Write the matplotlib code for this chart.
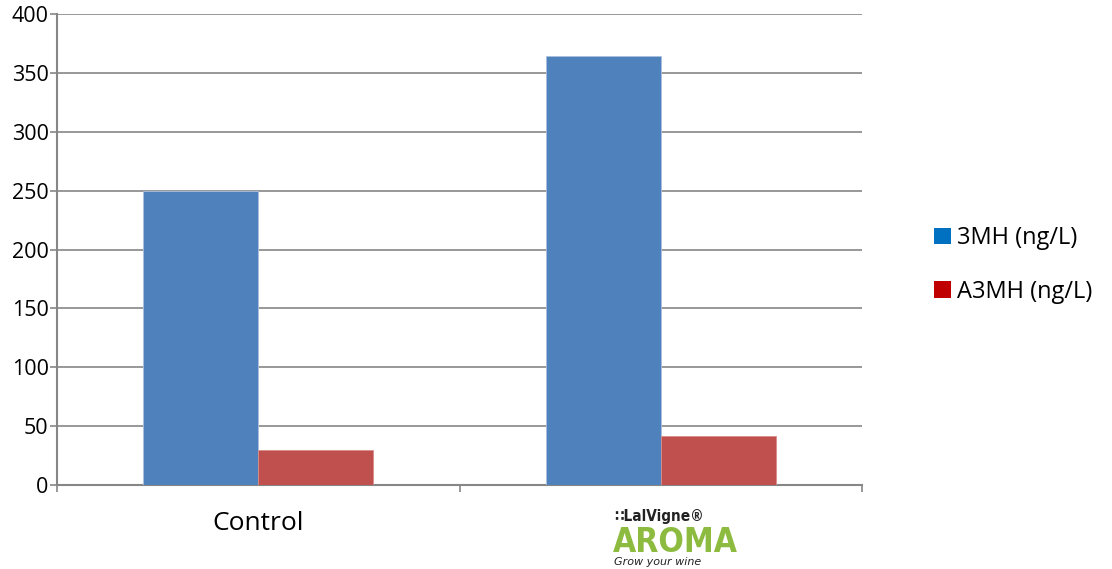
import matplotlib
matplotlib.use("Agg")
import matplotlib.pyplot as plt
from matplotlib.patches import Patch
import matplotlib.transforms as mtransforms

categories = ["Control", "LalVigne AROMA"]
series_names = ["3MH (ng/L)", "A3MH (ng/L)"]
mh3 = [250, 364]
a3mh = [30, 42]
yticks = [0, 50, 100, 150, 200, 250, 300, 350, 400]

bar_colors = ["#4F81BD", "#C0504D"]
legend_colors = ["#0070C0", "#C00000"]
grid_color = "#868686"

plt.rcParams['font.family'] = ['Open Sans', 'DejaVu Sans']

fig = plt.figure(figsize=(11.12, 5.69), dpi=100)
ax = fig.add_axes([57/1112, 1-485/569, (862-57)/1112, (485-14)/569])

n = len(categories)
x = list(range(n))
w = 0.286
ax.bar([i - w/2 for i in x], mh3, width=w, color=bar_colors[0], edgecolor="#a9c0df", linewidth=0.6, zorder=3)
ax.bar([i + w/2 for i in x], a3mh, width=w, color=bar_colors[1], edgecolor="#d98c8a", linewidth=0.6, zorder=3)

ax.set_xlim(-0.5, n - 0.5)
ax.set_ylim(0, 400)
ax.set_yticks(yticks)
ax.set_yticklabels([str(v) for v in yticks], fontsize=15.5)
ax.yaxis.grid(True, color=grid_color, linewidth=1.2, zorder=0)
ax.set_axisbelow(True)

ax.set_xticks(x)
ax.set_xticklabels([categories[0], ""], fontsize=19)
ax.tick_params(axis='x', which='major', length=0, pad=19)
ax.set_xticks([-0.5 + i for i in range(n + 1)], minor=True)
ax.tick_params(axis='x', which='minor', length=5, color=grid_color, width=1.2)
ax.tick_params(axis='y', length=5, color=grid_color, width=1.2, pad=1)

for s in ["top", "right"]:
    ax.spines[s].set_visible(False)
for s in ["left", "bottom"]:
    ax.spines[s].set_color(grid_color)
    ax.spines[s].set_linewidth(1.5)

# logo-like label for second category
trans = mtransforms.blended_transform_factory(ax.transData, fig.transFigure)
xl = 0.884
ax.text(xl, 1 - 517/569, "∷LalVigne®", transform=trans, ha='left', va='center',
        fontsize=11, fontweight='bold', color="#222222", family=['DejaVu Sans'],
        fontstretch='condensed')
ax.text(xl - 0.002, 1 - 542/569, "AROMA", transform=trans, ha='left', va='center',
        fontsize=24, fontweight='bold', color="#8DBB3F", family=['DejaVu Sans'],
        fontstretch='condensed')
ax.text(xl, 1 - 562/569, "Grow your wine", transform=trans, ha='left', va='center',
        fontsize=8, style='italic', color="#222222", family=['DejaVu Sans'])

handles = [Patch(facecolor=legend_colors[0]), Patch(facecolor=legend_colors[1])]
fig.legend(handles, series_names, loc='center left', bbox_to_anchor=(913/1112, 1-265/569),
           frameon=False, fontsize=17, handlelength=0.7, handleheight=0.7,
           handletextpad=0.25, labelspacing=1.25)

fig.savefig("out.png", dpi=100)
